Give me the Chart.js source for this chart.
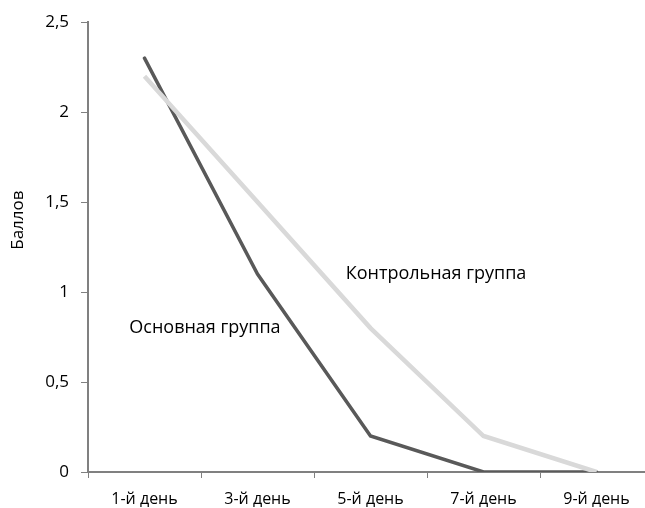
<!DOCTYPE html>
<html>
<head>
<meta charset="utf-8">
<script src="https://cdn.jsdelivr.net/npm/chart.js@4/dist/chart.umd.min.js"></script>
<style>
html,body{margin:0;padding:0;background:#fff;overflow:hidden;width:645px;height:508px;}
#wrap{width:660px;height:508px;}
</style>
</head>
<body>
<div id="wrap"><canvas id="c" width="660" height="508"></canvas></div>
<script>
const categories = ['1-й день', '3-й день', '5-й день', '7-й день', '9-й день'];
const mainGroup = [2.3, 1.1, 0.2, 0, 0];
const controlGroup = [2.2, 1.5, 0.8, 0.2, 0];
const yTicks = [0, 0.5, 1, 1.5, 2, 2.5];
const seriesNames = ['Основная группа', 'Контрольная группа'];
const yTitle = 'Баллов';

const FONT = '"Open Sans", sans-serif';

const labelPlugin = {
  id: 'seriesLabels',
  afterDraw(chart) {
    const ctx = chart.ctx;
    const x = chart.scales.x, y = chart.scales.y;
    const anchors = [
      {text: seriesNames[0], i: 0.535, v: 0.80},
      {text: seriesNames[1], i: 2.58, v: 1.10}
    ];
    ctx.save();
    ctx.fillStyle = '#000';
    ctx.font = '18px ' + FONT;
    ctx.textAlign = 'center';
    ctx.textBaseline = 'middle';
    anchors.forEach(a => {
      const px = x.getPixelForValue(0) + a.i * (x.getPixelForValue(1) - x.getPixelForValue(0));
      ctx.fillText(a.text, px, y.getPixelForValue(a.v));
    });
    // y title
    ctx.font = '17px ' + FONT;
    ctx.translate(18, y.getPixelForValue(1.4));
    ctx.rotate(-Math.PI / 2);
    ctx.fillText(yTitle, 0, 0);
    ctx.restore();
  }
};

new Chart(document.getElementById('c'), {
  type: 'line',
  data: {
    labels: categories,
    datasets: [
      {label: seriesNames[1], data: controlGroup, borderColor: '#d9d9d9', borderWidth: 4.5, pointRadius: 0, tension: 0, borderCapStyle: 'butt'},
      {label: seriesNames[0], data: mainGroup, borderColor: '#595959', borderWidth: 3.5, pointRadius: 0, tension: 0, borderCapStyle: 'round'}
    ]
  },
  options: {
    responsive: false,
    animation: false,
    layout: {padding: {top: 19, right: 7, left: 0, bottom: 0}},
    plugins: {legend: {display: false}, tooltip: {enabled: false}},
    scales: {
      x: {
        offset: true,
        grid: {offset: true, drawOnChartArea: false, drawTicks: true, tickLength: 6, color: '#808080', lineWidth: 1},
        border: {color: '#808080', width: 2},
        ticks: {color: '#000', font: {family: FONT, size: 16}, padding: 12, maxRotation: 0},
        afterFit(s) { s.height = 36; }
      },
      y: {
        min: 0, max: 2.5,
        afterBuildTicks(s) { s.ticks = yTicks.map(v => ({value: v})); },
        grid: {drawOnChartArea: false, drawTicks: true, tickLength: 7, color: '#808080', lineWidth: 1},
        border: {color: '#808080', width: 2},
        ticks: {color: '#000', font: {family: FONT, size: 17}, padding: 12,
          callback: v => String(v).replace('.', ',')},
        afterFit(s) { s.width = 88; }
      }
    }
  },
  plugins: [labelPlugin]
});
</script>
</body>
</html>
